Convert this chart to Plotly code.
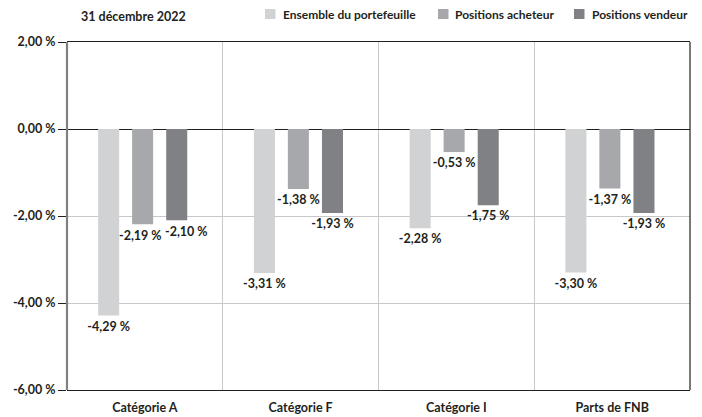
import plotly.graph_objects as go

categories = ["Catégorie A", "Catégorie F", "Catégorie I", "Parts de FNB"]
series_names = ["Ensemble du portefeuille", "Positions acheteur", "Positions vendeur"]
ensemble = [-4.29, -3.31, -2.28, -3.30]
acheteur = [-2.19, -1.38, -0.53, -1.37]
vendeur = [-2.10, -1.93, -1.75, -1.93]
colors = ["#d1d2d4", "#a7a8ab", "#808184"]
tick_vals = [2, 0, -2, -4, -6]
tick_text = ["2,00 %", "0,00 %", "-2,00 %", "-4,00 %", "-6,00 %"]
title_text = "31 décembre 2022"

FONT = "Lato"
FS = 12.5
TXT = "#231f20"

# Screen geometry (page body adds an 8px offset)
PL, PR, PT, PB = 67.0, 690.0, 42.0, 390.0
def px_x(x):
    return (x - PL) / (PR - PL)
def px_y(y):
    return (PB - y) / (PB - PT)

bar_offsets = [-0.30, -0.082, 0.137]
bar_width = 0.135
# horizontal nudge (px) of value labels to keep neighbouring labels apart
label_nudge = [[0, 0, 0, 0], [-2, 0, 0, 0], [10, 0, 0, 0]]
legend_swatch_x = [265, 438, 574]
legend_text_x = [282, 454, 591]

def fmt(v):
    return f"{v:.2f}".replace(".", ",") + " %"

fig = go.Figure()
annotations = []
for s, (name, vals, col, off) in enumerate(zip(series_names, [ensemble, acheteur, vendeur], colors, bar_offsets)):
    texts = []
    for i, v in enumerate(vals):
        if label_nudge[s][i] == 0:
            texts.append(fmt(v))
        else:
            texts.append("")
            annotations.append(dict(
                text=fmt(v), xref="x", yref="y", x=i + off + bar_width / 2, y=v,
                xanchor="center", yanchor="top", yshift=-2, xshift=label_nudge[s][i],
                showarrow=False, font=dict(family=FONT, size=FS, color=TXT, weight=700)))
    fig.add_trace(go.Bar(
        x=categories, y=vals, name=name, marker=dict(color=col, line=dict(width=0)),
        offset=off, width=bar_width,
        text=texts, textposition="outside", constraintext="none",
        textfont=dict(family=FONT, size=FS, color=TXT, weight=700),
        cliponaxis=False,
    ))

annotations.append(dict(text=title_text, xref="paper", yref="paper", x=px_x(80), y=px_y(16.5),
                        xanchor="left", yanchor="middle", showarrow=False, borderpad=0,
                        font=dict(family=FONT, size=FS, color=TXT, weight=700)))
shapes = [
    dict(type="line", xref="paper", yref="paper", x0=1, x1=1, y0=0, y1=1,
         line=dict(color=TXT, width=1.2), layer="above"),
    dict(type="line", xref="paper", yref="paper", x0=0, x1=0, y0=0, y1=1,
         line=dict(color="#808184", width=2.2), layer="above"),
]
for name, col, sx, tx in zip(series_names, colors, legend_swatch_x, legend_text_x):
    shapes.append(dict(type="rect", xref="paper", yref="paper",
                       x0=px_x(sx), x1=px_x(sx + 10.5), y0=px_y(19), y1=px_y(9),
                       fillcolor=col, line=dict(width=0), layer="above"))
    annotations.append(dict(text=name, xref="paper", yref="paper", x=px_x(tx), y=px_y(15),
                            xanchor="left", yanchor="middle", showarrow=False, borderpad=0,
                            font=dict(family=FONT, size=12, color=TXT, weight=700)))

fig.update_layout(
    width=694, height=409,
    margin=dict(l=59, r=12, t=34, b=27, autoexpand=False),
    paper_bgcolor="white", plot_bgcolor="white",
    barmode="group",
    font=dict(family=FONT, size=FS, color=TXT),
    showlegend=False,
    annotations=annotations,
    shapes=shapes,
)
fig.update_xaxes(
    showline=True, mirror=True, linecolor=TXT, linewidth=1.2,
    tickson="boundaries", showgrid=True, gridcolor="#c8c8ca", gridwidth=1,
    ticks="", ticklabelstandoff=6,
    tickfont=dict(family=FONT, size=FS, color=TXT, weight=700),
)
fig.update_yaxes(
    range=[-6, 2], tickvals=tick_vals, ticktext=tick_text,
    showgrid=True, gridcolor="#c8c8ca", gridwidth=1,
    zeroline=True, zerolinecolor=TXT, zerolinewidth=1.2,
    showline=False, ticks="outside", ticklen=8, tickcolor=TXT, tickwidth=1,
    tickfont=dict(family=FONT, size=FS, color=TXT, weight=700),
)

fig.write_html("out.html")
